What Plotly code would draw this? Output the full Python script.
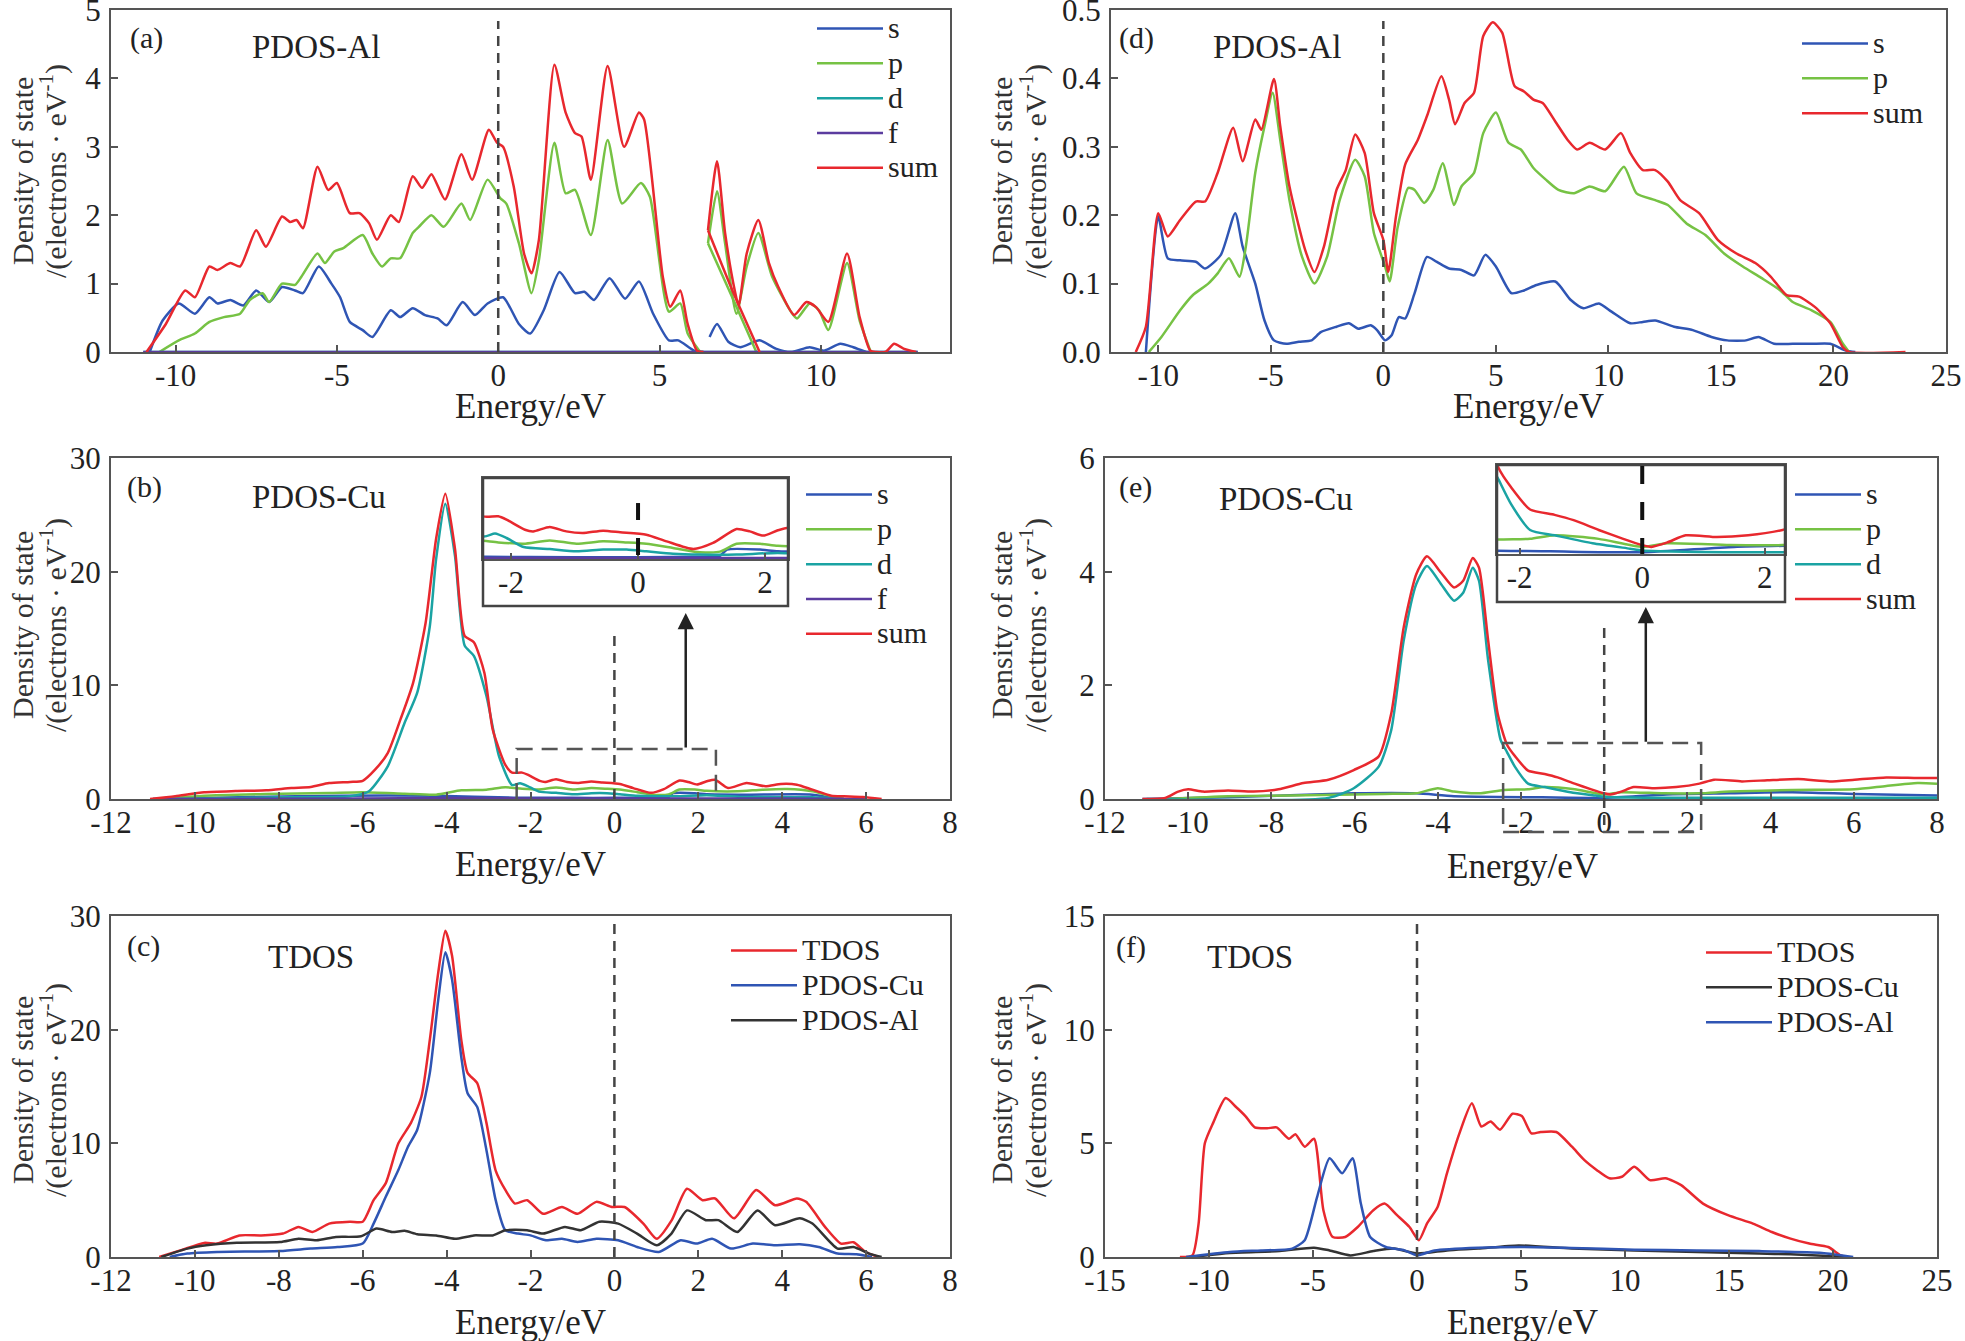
import plotly.graph_objects as go

W, H = 1965, 1341


def px(v):
    return v / W


def py(v):
    return 1 - v / H


BLUE = "#2f55b4"
GREEN = "#76c244"
TEAL = "#1aa3a3"
PURPLE = "#5b3c9f"
RED = "#e8282e"
BLACK = "#333333"
SERIF = "Liberation Serif"

# ---------------- (a) PDOS-Al, first structure ----------------
a_sum_x = [-10.9, -10.3, -9.7, -9.4, -8.95, -8.7, -8.3, -8.0, -7.5, -7.2,
           -6.7, -6.45, -6.25, -6.05, -5.6, -5.27, -5.0, -4.6, -4.3, -4.0,
           -3.76, -3.33, -3.08, -2.65, -2.36, -2.07, -1.65, -1.14, -0.81, -0.29,
           -0.04, 0.15, 0.48, 0.8, 1.03, 1.26, 1.74, 2.09, 2.38, 2.58,
           2.87, 3.39, 3.9, 4.36, 4.52, 5.1, 5.33, 5.64, 5.87, 6.16,
           6.36, None, 6.5, 6.78, 7.03, 7.33, 7.45, 7.7, 8.06, 8.39,
           8.68, 9.17, 9.55, 9.84, 10.23, 10.81, 11.2, 11.53, 11.7, 12.0,
           12.27, 12.56, 12.95, None, 6.5, 7.3, 8.1]
a_sum_y = [0, 0.41, 0.9, 0.8, 1.25, 1.2, 1.3, 1.25, 1.78, 1.54,
           1.98, 1.9, 1.93, 1.81, 2.71, 2.37, 2.47, 2.03, 2.03, 1.88,
           1.64, 2.0, 1.9, 2.57, 2.4, 2.6, 2.23, 2.89, 2.52, 3.25,
           3.06, 3.0, 2.42, 1.44, 1.15, 1.64, 4.2, 3.5, 3.2, 3.15,
           2.52, 4.18, 3.0, 3.5, 3.4, 1.1, 0.66, 0.9, 0.41, 0.02,
           0, None, 1.78, 2.79, 1.74, 0.9, 0.68, 1.44, 1.93, 1.3,
           0.95, 0.54, 0.73, 0.66, 0.44, 1.44, 0.51, 0.02, 0, 0,
           0.12, 0.05, 0, None, 1.78, 0.85, 0]

a_p_x = [-10.5, -9.9, -9.4, -8.95, -8.5, -8.0, -7.7, -7.3, -7.1, -6.7,
         -6.3, -6.1, -5.6, -5.37, -5.08, -4.8, -4.2, -3.9, -3.6, -3.33,
         -3.04, -2.65, -2.46, -2.07, -1.69, -1.14, -0.87, -0.33, 0.06, 0.25,
         0.64, 1.03, 1.26, 1.74, 2.09, 2.38, 2.87, 3.39, 3.84, 4.42,
         4.7, 5.29, 5.64, 5.87, 6.26, None, 6.5, 6.78, 7.03, 7.38,
         7.7, 8.06, 8.49, 9.07, 9.26, 9.65, 9.94, 10.23, 10.81, 11.2,
         11.53, None, 6.5, 7.3, 8.0]
a_p_y = [0, 0.17, 0.27, 0.44, 0.51, 0.56, 0.76, 0.86, 0.73, 1.0,
         0.98, 1.1, 1.44, 1.3, 1.47, 1.52, 1.71, 1.44, 1.25, 1.37,
         1.37, 1.74, 1.83, 2.0, 1.83, 2.17, 1.93, 2.52, 2.25, 2.17,
         1.59, 0.86, 1.34, 3.06, 2.32, 2.37, 1.71, 3.1, 2.17, 2.47,
         2.27, 0.59, 0.71, 0.27, 0, None, 1.59, 2.35, 1.59, 0.56,
         1.25, 1.74, 1.1, 0.59, 0.49, 0.71, 0.61, 0.32, 1.3, 0.46,
         0.02, None, 1.59, 0.75, 0]

a_s_x = [-10.8, -10.4, -9.9, -9.4, -8.95, -8.7, -8.3, -7.9, -7.5, -7.1,
         -6.7, -6.3, -6.05, -5.56, -5.17, -4.9, -4.6, -4.2, -3.9, -3.33,
         -3.04, -2.65, -2.27, -1.88, -1.6, -1.1, -0.72, -0.33, 0.15, 0.64,
         0.99, 1.41, 1.9, 2.38, 2.67, 2.97, 3.45, 3.93, 4.36, 4.8,
         5.29, 5.58, 6.07, 6.36, None, 6.55, 6.78, 7.13, 7.5, 8.1,
         8.6, 9.07, 9.65, 10.1, 10.6, 11.0, 11.4]
a_s_y = [0, 0.46, 0.71, 0.56, 0.8, 0.71, 0.76, 0.68, 0.9, 0.73,
         0.95, 0.9, 0.86, 1.25, 1.0, 0.8, 0.44, 0.32, 0.22, 0.61,
         0.51, 0.64, 0.54, 0.49, 0.39, 0.73, 0.54, 0.71, 0.8, 0.41,
         0.27, 0.61, 1.17, 0.86, 0.88, 0.76, 1.08, 0.78, 1.03, 0.56,
         0.17, 0.17, 0.02, 0, None, 0.22, 0.41, 0.15, 0.07, 0.17,
         0.05, 0, 0.07, 0.02, 0.12, 0.07, 0]

a_d_x = [-11.0, 0.0, 13.0]
a_d_y = [0, 0, 0]
a_f_x = [-11.0, 0.0, 13.0]
a_f_y = [0, 0, 0]

# ---------------- (b) PDOS-Cu, first structure ----------------
b_sum_x = [-11.07, -10.47, -9.78, -9.03, -8.3, -7.7, -7.24, -6.8, -6.3, -6.0,
           -5.7, -5.4, -5.1, -4.8, -4.5, -4.25, -4.03, -3.8, -3.57, -3.35,
           -3.1, -2.9, -2.6, -2.44, -2.2, -2.07, -1.78, -1.65, -1.39, -1.13,
           -0.87, -0.55, -0.28, 0.13, 0.45, 0.87, 1.18, 1.55, 1.76, 1.97,
           2.2, 2.4, 2.71, 3.15, 3.6, 3.97, 4.35, 4.72, 5.17, 5.47,
           5.92, 6.37]
b_sum_y = [0, 0.24, 0.6, 0.7, 0.76, 0.97, 1.06, 1.4, 1.5, 1.6,
           2.6, 4.06, 7.0, 10.2, 15.5, 22.9, 26.85, 22.0, 14.35, 13.8,
           11.1, 6.1, 3.0, 2.32, 2.32, 2.14, 1.59, 1.5, 1.74, 1.5,
           1.41, 1.54, 1.45, 1.32, 0.96, 0.54, 0.87, 1.63, 1.5, 1.27,
           1.56, 1.7, 0.97, 1.41, 1.12, 1.32, 1.26, 0.82, 0.29, 0.24,
           0.18, 0]

b_d_x = [-11.0, -10.2, -8.0, -6.3, -5.85, -5.4, -5.0, -4.7, -4.4, -4.25,
         -4.03, -3.8, -3.57, -3.35, -3.05, -2.75, -2.44, -2.25, -2.07, -1.8,
         -1.39, -0.97, -0.55, -0.18, 0.13, 0.55, 0.97, 1.55, 2.2, 3.0,
         4.72, 5.47]
b_d_y = [0, 0.03, 0.15, 0.24, 0.68, 2.9, 6.7, 9.35, 15.2, 21.1,
         25.97, 21.4, 13.5, 12.6, 9.06, 3.76, 1.23, 1.38, 1.14, 0.65,
         0.54, 0.42, 0.51, 0.51, 0.42, 0.29, 0.24, 0.24, 0.33, 0.18,
         0.15, 0.03]

b_p_x = [-10.8, -9.78, -8.3, -6.8, -6.0, -5.0, -4.25, -3.65, -3.05, -2.6,
         -2.2, -1.8, -1.39, -0.97, -0.55, -0.18, 0.13, 0.55, 0.97, 1.29,
         1.55, 1.92, 2.2, 2.93, 3.53, 4.12, 4.72, 5.17, 5.47]
b_p_y = [0, 0.29, 0.44, 0.53, 0.6, 0.47, 0.38, 0.76, 0.82, 1.03,
         0.9, 0.83, 1.01, 0.83, 0.96, 0.9, 0.83, 0.6, 0.36, 0.4,
         0.83, 0.83, 0.72, 0.68, 0.82, 0.88, 0.68, 0.24, 0]

b_s_x = [-10.5, -8.7, -6.5, -4.25, -2.4, -1.0, 0.0, 1.0, 1.29, 1.4,
         1.92, 2.2, 3.23, 4.72, 5.32]
b_s_y = [0.03, 0.18, 0.29, 0.29, 0.12, 0.1, 0.1, 0.12, 0.17, 0.51,
         0.51, 0.42, 0.38, 0.38, 0]

b_f_x = [-11.0, -6.0, -4.0, -2.0, 0.0, 2.0, 4.0, 6.0]
b_f_y = [0, 0.05, 0.08, 0.05, 0.05, 0.05, 0.05, 0]

# ---------------- (c) TDOS, first structure ----------------
c_tdos_x = [-10.85, -10.33, -9.78, -9.47, -8.94, -8.42, -7.9, -7.53, -7.2, -6.8,
            -6.3, -6.0, -5.74, -5.45, -5.15, -4.85, -4.6, -4.4, -4.2, -4.03,
            -3.87, -3.65, -3.5, -3.27, -3.05, -2.83, -2.6, -2.37, -2.08, -1.7,
            -1.25, -0.88, -0.43, -0.06, 0.24, 0.69, 1.01, 1.36, 1.73, 2.1,
            2.4, 2.85, 3.38, 3.83, 4.35, 4.57, 5.02, 5.4, 5.7, 5.99,
            6.3]
c_tdos_y = [0, 0.6, 1.24, 1.18, 1.9, 1.9, 2.06, 2.65, 2.2, 2.94,
            3.1, 3.1, 5.0, 6.5, 10.0, 11.8, 14.1, 19.1, 25.0, 28.7,
            26.5, 19.1, 16.2, 15.3, 11.8, 7.6, 5.9, 4.7, 5.0, 3.8,
            4.4, 3.8, 4.85, 4.4, 4.4, 2.94, 1.6, 3.2, 6.0, 5.0,
            5.15, 3.4, 5.9, 4.55, 5.15, 4.85, 2.65, 1.18, 1.3, 0.44,
            0]

c_cu_x = [-10.6, -10.18, -9.47, -7.97, -7.24, -6.6, -6.0, -5.74, -5.45, -5.15,
          -4.92, -4.7, -4.4, -4.2, -4.03, -3.87, -3.65, -3.5, -3.27, -3.05,
          -2.83, -2.6, -2.3, -2.0, -1.63, -1.25, -0.88, -0.43, 0.09, 0.54,
          1.06, 1.58, 1.96, 2.33, 2.78, 3.3, 3.83, 4.42, 4.87, 5.32,
          5.77, 6.14]
c_cu_y = [0, 0.3, 0.44, 0.53, 0.74, 0.88, 1.18, 2.94, 5.3, 7.65,
          9.7, 11.2, 16.2, 22.6, 26.8, 24.4, 17.6, 14.4, 13.2, 9.4,
          5.0, 2.35, 2.06, 1.9, 1.47, 1.6, 1.32, 1.6, 1.47, 0.88,
          0.44, 1.47, 1.18, 1.6, 0.74, 1.18, 1.03, 1.12, 0.88, 0.3,
          0.24, 0]

c_al_x = [-10.8, -10.18, -9.73, -9.0, -7.97, -7.53, -7.1, -6.64, -6.04, -5.67,
          -5.3, -5.0, -4.7, -4.25, -3.8, -3.35, -2.9, -2.6, -2.08, -1.7,
          -1.18, -0.8, -0.36, 0.09, 0.54, 1.01, 1.36, 1.73, 2.18, 2.48,
          2.93, 3.41, 3.83, 4.42, 4.72, 5.32, 5.7, 6.07, 6.37]
c_al_y = [0, 0.74, 1.03, 1.26, 1.32, 1.6, 1.47, 1.76, 1.82, 2.5,
          2.2, 2.3, 2.0, 1.9, 1.6, 1.9, 1.9, 2.35, 2.35, 2.06,
          2.65, 2.35, 3.1, 2.94, 2.06, 1.03, 2.06, 4.1, 3.24, 3.24,
          2.2, 4.1, 2.8, 3.4, 2.94, 0.74, 0.88, 0.3, 0]

# ---------------- (d) PDOS-Al, second structure ----------------
d_sum_x = [-11.0, -10.55, -10.0, -9.58, -9.03, -8.33, -7.92, -7.36, -6.67, -6.25,
           -5.69, -5.42, -4.86, -4.58, -4.17, -3.47, -3.06, -2.64, -2.08, -1.67,
           -1.25, -0.83, -0.42, 0.0, 0.22, 0.56, 0.97, 1.53, 1.94, 2.58,
           2.92, 3.19, 3.61, 4.03, 4.44, 4.86, 5.28, 5.83, 6.25, 6.67,
           7.08, 7.64, 8.19, 8.61, 9.17, 9.86, 10.56, 10.97, 11.53, 12.08,
           12.64, 13.19, 14.03, 14.86, 15.69, 16.53, 17.22, 17.92, 18.47, 19.17,
           19.86, 20.42, 20.69, 23.2]
d_sum_y = [0, 0.037, 0.203, 0.169, 0.193, 0.22, 0.22, 0.262, 0.328, 0.279,
           0.34, 0.325, 0.399, 0.33, 0.242, 0.149, 0.117, 0.154, 0.237, 0.266,
           0.318, 0.291, 0.203, 0.164, 0.117, 0.198, 0.274, 0.31, 0.345, 0.403,
           0.369, 0.333, 0.364, 0.379, 0.462, 0.482, 0.467, 0.389, 0.381, 0.369,
           0.364, 0.337, 0.31, 0.296, 0.306, 0.296, 0.32, 0.291, 0.266, 0.266,
           0.249, 0.222, 0.203, 0.164, 0.144, 0.13, 0.11, 0.083, 0.081, 0.066,
           0.042, 0.007, 0, 0]

d_p_x = [-10.42, -9.86, -9.03, -8.47, -7.78, -7.36, -6.86, -6.39, -6.11, -5.69,
         -5.28, -4.92, -4.58, -4.17, -3.61, -3.06, -2.5, -1.94, -1.25, -0.83,
         -0.42, 0.08, 0.28, 0.64, 1.11, 1.39, 1.81, 2.22, 2.64, 3.14,
         3.47, 4.03, 4.44, 5.0, 5.56, 6.11, 6.67, 7.22, 7.78, 8.47,
         9.17, 9.86, 10.69, 11.25, 12.08, 12.64, 13.47, 14.31, 15.14, 15.97,
         16.81, 17.64, 18.19, 19.03, 19.86, 20.42, 20.69]
d_p_y = [0, 0.022, 0.061, 0.083, 0.1, 0.115, 0.137, 0.11, 0.154, 0.262,
         0.33, 0.379, 0.31, 0.222, 0.139, 0.1, 0.139, 0.222, 0.281, 0.257,
         0.174, 0.125, 0.103, 0.183, 0.24, 0.237, 0.218, 0.237, 0.276, 0.215,
         0.242, 0.262, 0.32, 0.35, 0.306, 0.296, 0.269, 0.252, 0.237, 0.232,
         0.242, 0.235, 0.271, 0.232, 0.222, 0.215, 0.188, 0.171, 0.144, 0.125,
         0.108, 0.09, 0.073, 0.061, 0.044, 0.012, 0]

d_s_x = [-10.55, -10.0, -9.58, -9.03, -8.33, -7.92, -7.22, -6.58, -6.25, -5.69,
         -5.28, -4.86, -4.31, -3.75, -3.19, -2.78, -2.08, -1.53, -1.11, -0.56,
         -0.28, 0.08, 0.36, 0.69, 0.97, 1.39, 1.94, 2.36, 2.92, 3.47,
         4.03, 4.53, 5.0, 5.69, 6.25, 6.81, 7.64, 8.33, 8.89, 9.58,
         10.14, 10.97, 11.53, 12.08, 12.92, 13.75, 14.58, 15.28, 16.11, 16.67,
         17.36, 18.19, 19.03, 19.86, 20.56, 20.97]
d_s_y = [0, 0.198, 0.137, 0.134, 0.132, 0.122, 0.142, 0.203, 0.154, 0.1,
         0.046, 0.017, 0.012, 0.015, 0.017, 0.029, 0.037, 0.042, 0.034, 0.039,
         0.032, 0.017, 0.024, 0.051, 0.049, 0.086, 0.139, 0.132, 0.122, 0.12,
         0.112, 0.142, 0.125, 0.086, 0.09, 0.098, 0.103, 0.076, 0.064, 0.071,
         0.059, 0.042, 0.044, 0.046, 0.037, 0.032, 0.022, 0.017, 0.017, 0.022,
         0.012, 0.012, 0.012, 0.012, 0.002, 0]

# ---------------- (e) PDOS-Cu, second structure ----------------
e_sum_x = [-11.1, -10.55, -10.24, -10.0, -9.64, -9.04, -8.43, -7.83, -7.23, -6.63,
           -6.02, -5.42, -5.12, -4.82, -4.52, -4.26, -3.92, -3.61, -3.39, -3.16,
           -3.01, -2.79, -2.56, -2.34, -2.14, -1.83, -1.43, -1.12, -0.71, -0.31,
           0.0, 0.15, 0.41, 0.71, 1.22, 1.73, 2.29, 2.64, 3.31, 3.92,
           4.67, 5.42, 6.02, 6.78, 7.53, 8.0]
e_sum_y = [0, 0.02, 0.13, 0.17, 0.13, 0.15, 0.13, 0.17, 0.28, 0.34,
           0.51, 0.75, 1.5, 3.02, 3.95, 4.27, 3.98, 3.72, 3.84, 4.24,
           4.07, 2.79, 1.5, 0.96, 0.75, 0.5, 0.44, 0.38, 0.27, 0.17,
           0.1, 0.08, 0.13, 0.21, 0.19, 0.21, 0.27, 0.34, 0.31, 0.33,
           0.35, 0.31, 0.34, 0.38, 0.37, 0.37]

e_d_x = [-11.0, -6.63, -6.02, -5.42, -5.12, -4.82, -4.52, -4.26, -3.92, -3.61,
         -3.39, -3.16, -3.01, -2.79, -2.49, -2.34, -2.14, -1.83, -1.43, -0.81,
         -0.2, 0.0, 1.5, 8.0]
e_d_y = [0, 0.02, 0.19, 0.57, 1.21, 2.79, 3.78, 4.1, 3.78, 3.49,
         3.63, 4.07, 3.84, 2.44, 1.04, 0.83, 0.56, 0.27, 0.21, 0.12,
         0.06, 0.04, 0.02, 0.02]

e_p_x = [-10.55, -9.04, -7.53, -6.02, -5.27, -4.52, -4.0, -3.61, -3.01, -2.41,
         -1.83, -1.43, -0.71, 0.0, 0.41, 1.43, 2.29, 3.01, 4.52, 6.02,
         6.78, 7.53, 8.0]
e_p_y = [0, 0.05, 0.06, 0.08, 0.09, 0.1, 0.19, 0.13, 0.1, 0.16,
         0.17, 0.21, 0.17, 0.08, 0.12, 0.1, 0.1, 0.13, 0.16, 0.17,
         0.23, 0.28, 0.27]

e_s_x = [-11.1, -9.04, -6.02, -4.52, -3.61, -1.5, 0.0, 1.5, 3.01, 4.52, 6.02, 8.0]
e_s_y = [0, 0.03, 0.1, 0.1, 0.05, 0.03, 0.02, 0.08, 0.1, 0.12, 0.09, 0.06]

# ---------------- (f) TDOS, second structure ----------------
f_tdos_x = [-11.4, -10.8, -10.5, -10.2, -9.8, -9.2, -8.7, -8.25, -7.8, -7.2,
            -6.75, -6.15, -5.85, -5.4, -4.95, -4.5, -4.05, -3.45, -2.85, -2.1,
            -1.56, -0.96, -0.36, 0.09, 0.48, 0.99, 1.44, 2.04, 2.64, 3.09,
            3.54, 3.99, 4.59, 5.04, 5.5, 5.95, 6.7, 7.45, 8.05, 8.65,
            9.25, 9.85, 10.45, 11.2, 11.95, 12.7, 13.75, 14.95, 16.15, 17.06,
            17.96, 18.86, 19.77, 20.37, 20.67]
f_tdos_y = [0, 0.07, 1.47, 5.0, 5.9, 6.99, 6.6, 6.2, 5.7, 5.66,
            5.7, 5.2, 5.4, 4.85, 5.2, 2.06, 0.88, 0.88, 1.32, 2.06,
            2.35, 1.84, 1.32, 0.74, 1.47, 2.2, 3.68, 5.44, 6.76, 5.74,
            5.96, 5.6, 6.3, 6.2, 5.44, 5.5, 5.5, 4.85, 4.26, 3.82,
            3.46, 3.53, 3.97, 3.38, 3.46, 3.16, 2.35, 1.84, 1.47, 1.1,
            0.81, 0.59, 0.44, 0.07, 0]

f_cu_x = [-10.8, -9.0, -6.6, -4.95, -4.2, -3.2, -2.1, -1.1, 0.0, 1.44,
          2.94, 4.89, 7.44, 10.45, 13.45, 16.45, 17.96, 20.07, 20.67]
f_cu_y = [0, 0.18, 0.26, 0.41, 0.29, 0.07, 0.26, 0.37, 0.15, 0.29,
          0.37, 0.51, 0.37, 0.29, 0.22, 0.15, 0.12, 0.03, 0]

f_al_x = [-11.1, -9.0, -7.5, -6.0, -5.4, -4.8, -4.2, -3.6, -3.1, -2.7,
          -2.25, -1.5, -0.6, 0.0, 0.84, 2.94, 5.04, 7.44, 10.45, 13.45,
          16.45, 19.47, 20.97]
f_al_y = [0, 0.22, 0.29, 0.37, 0.74, 2.65, 4.34, 3.68, 4.34, 2.35,
          0.88, 0.44, 0.29, 0.07, 0.29, 0.41, 0.44, 0.4, 0.32, 0.29,
          0.26, 0.18, 0]

# tick values
ticks_a_x = [-10, -5, 0, 5, 10]
ticks_a_y = [0, 1, 2, 3, 4, 5]
ticks_cu_x = [-12, -10, -8, -6, -4, -2, 0, 2, 4, 6, 8]
ticks_30_y = [0, 10, 20, 30]
ticks_d_x = [-10, -5, 0, 5, 10, 15, 20, 25]
ticks_d_y = [0.0, 0.1, 0.2, 0.3, 0.4, 0.5]
ticks_e_y = [0, 2, 4, 6]
ticks_f_x = [-15, -10, -5, 0, 5, 10, 15, 20, 25]
ticks_f_y = [0, 5, 10, 15]
ticks_inset = [-2, 0, 2]

fig = go.Figure()


def line(x, y, n, color, name=None, legend=None):
    ref = "" if n == 1 else str(n)
    label = None
    if name is not None:
        # bigger glyphs than the legend's row spacing would allow
        label = '<span style="font-size:30px">%s</span>' % name
    fig.add_trace(go.Scatter(
        x=x, y=y, xaxis="x" + ref, yaxis="y" + ref, mode="lines",
        line=dict(color=color, width=2.5, shape="spline", smoothing=0.6),
        name=label, legend=legend, showlegend=name is not None,
        hoverinfo="skip"))


# (a)
line(a_s_x, a_s_y, 1, BLUE, "s", "legend")
line(a_p_x, a_p_y, 1, GREEN, "p", "legend")
line(a_d_x, a_d_y, 1, TEAL, "d", "legend")
line(a_f_x, a_f_y, 1, PURPLE, "f", "legend")
line(a_sum_x, a_sum_y, 1, RED, "sum", "legend")
# (b) + inset
for n, lg in ((2, "legend2"), (7, None)):
    line(b_s_x, b_s_y, n, BLUE, "s" if lg else None, lg)
    line(b_p_x, b_p_y, n, GREEN, "p" if lg else None, lg)
    line(b_d_x, b_d_y, n, TEAL, "d" if lg else None, lg)
    line(b_f_x, b_f_y, n, PURPLE, "f" if lg else None, lg)
    line(b_sum_x, b_sum_y, n, RED, "sum" if lg else None, lg)
# (c)
line(c_tdos_x, c_tdos_y, 3, RED, "TDOS", "legend3")
line(c_cu_x, c_cu_y, 3, BLUE, "PDOS-Cu", "legend3")
line(c_al_x, c_al_y, 3, BLACK, "PDOS-Al", "legend3")
# (d)
line(d_s_x, d_s_y, 4, BLUE, "s", "legend4")
line(d_p_x, d_p_y, 4, GREEN, "p", "legend4")
line(d_sum_x, d_sum_y, 4, RED, "sum", "legend4")
# (e) + inset
for n, lg in ((5, "legend5"), (8, None)):
    line(e_s_x, e_s_y, n, BLUE, "s" if lg else None, lg)
    line(e_p_x, e_p_y, n, GREEN, "p" if lg else None, lg)
    line(e_d_x, e_d_y, n, TEAL, "d" if lg else None, lg)
    line(e_sum_x, e_sum_y, n, RED, "sum" if lg else None, lg)
# (f)
line(f_tdos_x, f_tdos_y, 6, RED, "TDOS", "legend6")
line(f_cu_x, f_cu_y, 6, BLACK, "PDOS-Cu", "legend6")
line(f_al_x, f_al_y, 6, BLUE, "PDOS-Al", "legend6")

# axes: n -> (left, right, top, bottom px, xrange, yrange, xticks, yticks, yfmt)
panels = {
    1: (111, 950, 10, 352, [-12, 14], [0, 5], ticks_a_x, ticks_a_y, "{:g}"),
    2: (111, 950, 458, 799, [-12, 8], [0, 30], ticks_cu_x, ticks_30_y, "{:g}"),
    3: (111, 950, 916, 1257, [-12, 8], [0, 30], ticks_cu_x, ticks_30_y, "{:g}"),
    4: (1111, 1946, 10, 352, [-12.1, 25], [0, 0.5], ticks_d_x, ticks_d_y, "{:.1f}"),
    5: (1105, 1937, 458, 799, [-12, 8], [0, 6], ticks_cu_x, ticks_e_y, "{:g}"),
    6: (1105, 1937, 916, 1257, [-15, 25], [0, 15], ticks_f_x, ticks_f_y, "{:g}"),
}
tickfont = dict(family=SERIF, size=31, color="#222")
frame = dict(showline=True, linecolor="#555", linewidth=2, mirror=True,
             showgrid=False, zeroline=False, ticks="inside", ticklen=7,
             tickwidth=2, tickcolor="#555", tickfont=tickfont, automargin=False,
             ticklabeloverflow="allow")
layout = {}
for n, (l, r, t, b, xr, yr, xt, yt, yf) in panels.items():
    ref = "" if n == 1 else str(n)
    layout["xaxis" + ref] = dict(
        frame, domain=[px(l), px(r)], range=xr, anchor="y" + ref,
        tickmode="array", tickvals=xt, ticktext=[str(v) for v in xt],
        ticklabelstandoff=-5)
    layout["yaxis" + ref] = dict(
        frame, domain=[py(b), py(t)], range=yr, anchor="x" + ref,
        tickmode="array", tickvals=yt, ticktext=[yf.format(v) for v in yt],
        ticklabelstandoff=2)

# insets: n -> (left, right, top, bottom px, xrange, yrange)
insets = {7: (483, 788, 478, 559, [-2.44, 2.36], [0, 4.4]),
          8: (1497, 1785, 465, 554, [-2.37, 2.33], [0, 1.0])}
for n, (l, r, t, b, xr, yr) in insets.items():
    layout["xaxis%d" % n] = dict(
        frame, domain=[px(l), px(r)], range=xr, anchor="y%d" % n,
        tickmode="array", tickvals=ticks_inset,
        ticktext=[str(v) for v in ticks_inset], ticklen=6,
        tickfont=dict(family=SERIF, size=31, color="#222"),
        ticklabelstandoff=-5)
    layout["yaxis%d" % n] = dict(
        frame, domain=[py(b), py(t)], range=yr, anchor="x%d" % n,
        ticks="", showticklabels=False)

shapes = []
dash_main = dict(color="#444", width=2.5, dash="10px,7px")
# Fermi level lines
for xr, yr, y1 in (("x", "y", 4.84), ("x2", "y2", 14.9), ("x3", "y3", 29.6),
                   ("x4", "y4", 0.484), ("x6", "y6", 14.9)):
    shapes.append(dict(type="line", xref=xr, yref=yr, x0=0, x1=0, y0=0, y1=y1,
                       line=dash_main))
shapes.append(dict(type="line", xref="x5", yref="paper", x0=0, x1=0,
                   y0=py(628), y1=py(832), line=dash_main))
# zoom boxes
dash_box = dict(color="#555", width=2.5, dash="16px,9px")
shapes.append(dict(type="path", xref="x2", yref="y2",
                   path="M -2.33,0 L -2.33,4.4 L 2.42,4.4 L 2.42,0",
                   line=dash_box))
shapes.append(dict(type="rect", xref="x5", yref="paper", x0=-2.43, x1=2.33,
                   y0=py(832), y1=py(743), line=dash_box))
# inset frames and their Fermi lines
shapes.append(dict(type="rect", xref="paper", yref="paper", x0=px(483),
                   x1=px(788), y0=py(606), y1=py(478),
                   line=dict(color="#444", width=2.5), fillcolor="rgba(0,0,0,0)"))
shapes.append(dict(type="rect", xref="paper", yref="paper", x0=px(1497),
                   x1=px(1785), y0=py(602), y1=py(465),
                   line=dict(color="#444", width=2.5), fillcolor="rgba(0,0,0,0)"))
shapes.append(dict(type="line", xref="x7", yref="y7", x0=0, x1=0, y0=3.04, y1=0,
                   line=dict(color="#111", width=4, dash="17px,18px")))
shapes.append(dict(type="line", xref="x8", yref="y8", x0=0, x1=0, y0=0.99, y1=0,
                   line=dict(color="#111", width=4, dash="18px,18px")))

ann = []
ytitle_1 = "Density of state"
ytitle_2 = "/(electrons · eV<sup>-1</sup>)"
for x1, x2, y in ((22, 53, 171), (22, 53, 625), (22, 53, 1090),
                  (1001, 1033, 171), (1001, 1033, 625), (1001, 1033, 1090)):
    for t, x in ((ytitle_1, x1), (ytitle_2, x2)):
        ann.append(dict(text=t, x=px(x), y=py(y), xref="paper", yref="paper",
                        textangle=-90, showarrow=False, xanchor="center",
                        yanchor="middle",
                        font=dict(family=SERIF, size=30, color="#333")))
for x, y in ((530, 406), (530, 864), (530, 1322), (1528, 406), (1522, 866),
             (1522, 1322)):
    ann.append(dict(text="Energy/eV", x=px(x), y=py(y), xref="paper",
                    yref="paper", showarrow=False, xanchor="center",
                    yanchor="middle", font=dict(family=SERIF, size=35, color="#222")))
labels = [("(a)", 128, 38), ("PDOS-Al", 250, 47), ("(b)", 125, 487),
          ("PDOS-Cu", 250, 497), ("(c)", 125, 946), ("TDOS", 266, 957),
          ("(d)", 1117, 38), ("PDOS-Al", 1211, 47), ("(e)", 1117, 487),
          ("PDOS-Cu", 1217, 499), ("(f)", 1114, 947), ("TDOS", 1205, 957)]
for t, x, y in labels:
    ann.append(dict(text=t, x=px(x), y=py(y), xref="paper", yref="paper",
                    showarrow=False, xanchor="left", yanchor="middle",
                    font=dict(family=SERIF, size=33 if "(" not in t else 30,
                              color="#222")))
# arrows from zoom boxes to insets
ann.append(dict(text="", x=1.7, y=16.36, xref="x2", yref="y2", ax=1.7, ay=4.4,
                axref="x2", ayref="y2", showarrow=True, arrowhead=2,
                arrowsize=1.3, arrowwidth=2.5, arrowcolor="#222"))
ann.append(dict(text="", x=1.0, y=3.38, xref="x5", yref="y5", ax=1.0, ay=0.98,
                axref="x5", ayref="y5", showarrow=True, arrowhead=2,
                arrowsize=1.3, arrowwidth=2.5, arrowcolor="#222"))

legfont = dict(family=SERIF, size=24.5, color="#222")
for key, x, y in (("legend", 812, 6), ("legend2", 801, 472),
                  ("legend3", 726, 928), ("legend4", 1797, 21),
                  ("legend5", 1790, 472), ("legend6", 1701, 930)):
    layout[key] = dict(x=px(x), y=py(y), xanchor="left", yanchor="top",
                       bgcolor="rgba(0,0,0,0)", font=legfont, itemwidth=66,
                       tracegroupgap=0)

fig.update_layout(
    template="none",
    width=W, height=H, margin=dict(l=0, r=0, t=0, b=0, autoexpand=False),
    paper_bgcolor="white", plot_bgcolor="white",
    shapes=shapes, annotations=ann, **layout)

fig.write_html("out.html", config={"displayModeBar": False},
               post_script="document.body.style.margin = '0';")
